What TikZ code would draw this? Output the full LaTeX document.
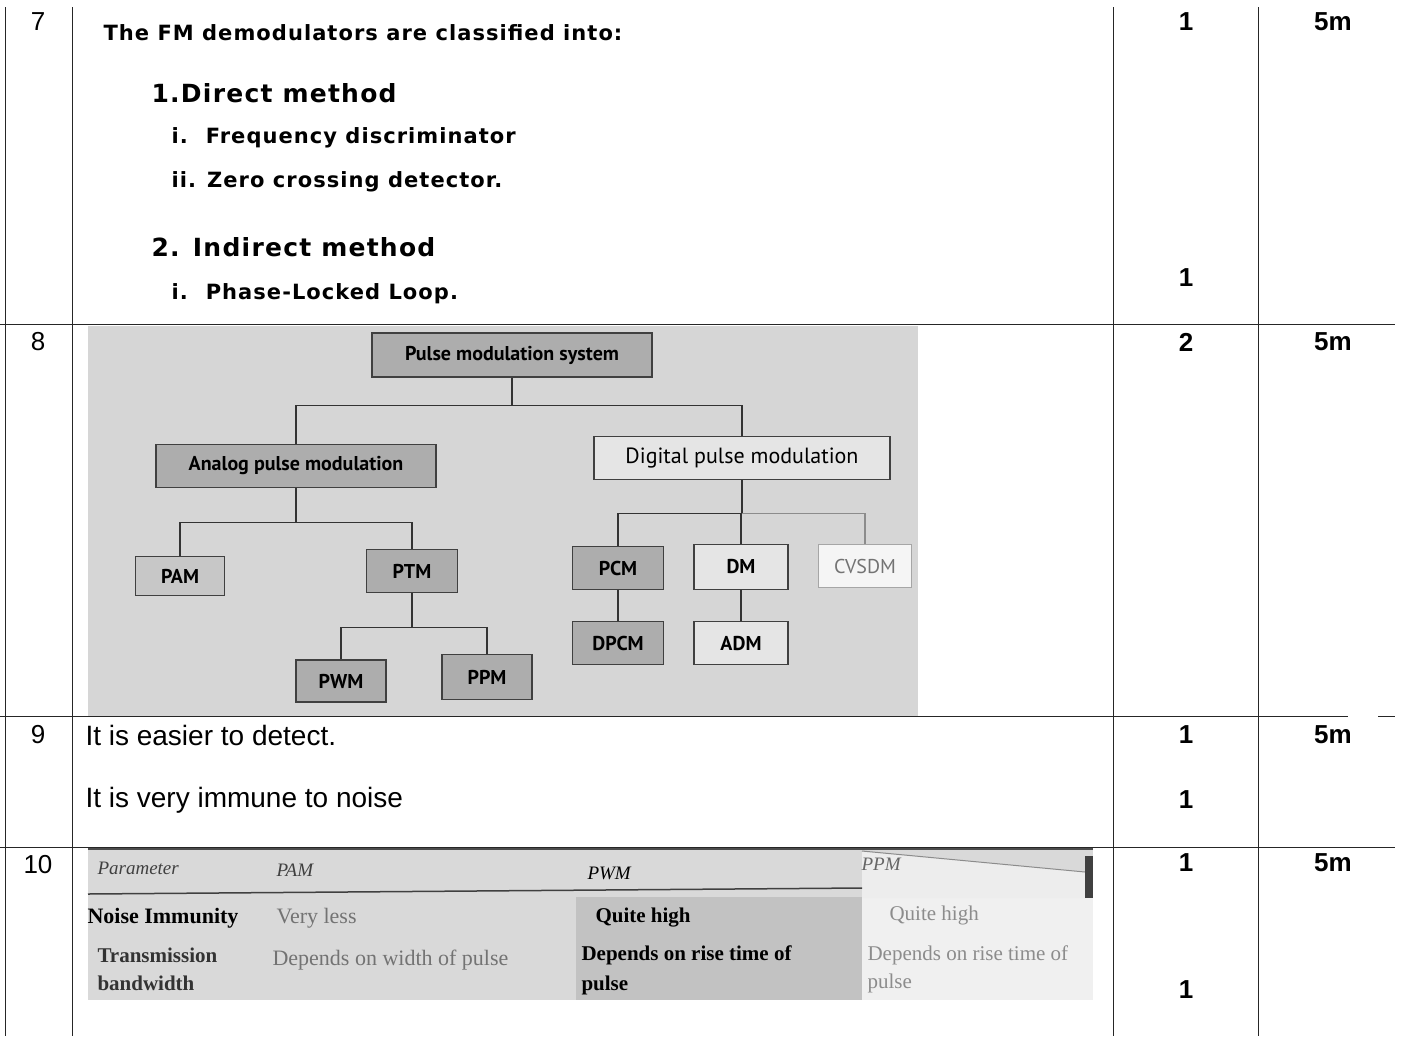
\documentclass[tikz,border=0pt]{standalone}
\usepackage{fontspec}
\setmainfont{Liberation Sans}
\newfontfamily\roundfont[LetterSpace=5]{DejaVu Sans}
\newfontfamily\chartfont{PT Sans}
\newfontfamily\scanserif{Liberation Serif}
\definecolor{scanbg}{gray}{0.84}
\definecolor{boxdark}{gray}{0.68}
\definecolor{boxlight}{gray}{0.90}
\begin{document}
\begin{tikzpicture}[x=1pt, y=-1pt,
    grid/.style={line width=1pt, black!85},
    numtxt/.style={font=\fontsize{26}{30}\selectfont},
    marktxt/.style={font=\bfseries\fontsize{26}{30}\selectfont},
    headtxt/.style={anchor=west, font=\roundfont\bfseries\fontsize{21}{25}\selectfont},
    methtxt/.style={anchor=west, font=\roundfont\bfseries\fontsize{25}{30}\selectfont},
    box/.style={draw=black!75, line width=1.2pt, inner sep=0pt,
      font=\chartfont\bfseries\fontsize{20}{24}\selectfont},
    darkbox/.style={box, fill=boxdark},
    lightbox/.style={box, fill=boxlight},
    link/.style={draw=black!80, line width=1.2pt},
    answer/.style={anchor=west, font=\fontsize{28}{32}\selectfont},
    scantxt/.style={anchor=west, font=\scanserif\fontsize{22}{26}\selectfont},
  ]
  \useasboundingbox (0,0) rectangle (1404,1036);

  % table rules
  \draw[grid] (5,7) -- (5,1036);
  \draw[grid] (72,7) -- (72,1036);
  \draw[grid] (1113,7) -- (1113,1036);
  \draw[grid] (1258,7) -- (1258,1036);
  \draw[grid] (0,324) -- (1395,324);
  \draw[grid] (0,716) -- (1348,716);
  \draw[grid] (1378,716) -- (1395,716);
  \draw[grid] (0,847) -- (1395,847);

  % question numbers
  \node[numtxt] (q7) at (38,22) {7};
  \node[numtxt] (q8) at (38,342) {8};
  \node[numtxt] (q9) at (38,735) {9};
  \node[numtxt] (q10) at (38,865) {10};

  % marks
  \node[marktxt] (m7a) at (1186,22) {1};
  \node[marktxt] (t7) at (1333,22) {5m};
  \node[marktxt] (m7b) at (1186,278) {1};
  \node[marktxt] (m8) at (1186,342) {2};
  \node[marktxt] (t8) at (1333,342) {5m};
  \node[marktxt] (m9a) at (1186,735) {1};
  \node[marktxt] (t9) at (1333,735) {5m};
  \node[marktxt] (m9b) at (1186,800) {1};
  \node[marktxt] (m10a) at (1186,863) {1};
  \node[marktxt] (t10) at (1333,863) {5m};
  \node[marktxt] (m10b) at (1186,990) {1};

  % Q7: FM demodulators
  \node[headtxt] (intro) at (100,33) {The FM demodulators are classified into:};
  \node[methtxt] (direct) at (148,93) {1.Direct method};
  \node[headtxt] (freq) at (168,138) {i.\hspace{18pt}Frequency discriminator};
  \node[headtxt] (zero) at (168,182) {ii. Zero crossing detector.};
  \node[methtxt] (indirect) at (148,247) {2. Indirect method};
  \node[headtxt] (pll) at (168,294) {i.\hspace{18pt}Phase-Locked Loop.};

  % Q8: pulse modulation tree
  \fill[scanbg] (88,326) rectangle (918,716);
  \node[darkbox, minimum width=280, minimum height=44] (pms) at (512,355) {Pulse modulation system};
  \node[darkbox, minimum width=280, minimum height=43] (apm) at (296,466) {Analog pulse modulation};
  \node[lightbox, minimum width=296, minimum height=43, font=\chartfont\fontsize{22}{24}\selectfont] (dpm) at (742,458) {Digital pulse modulation};
  \node[box, fill=black!22, minimum width=89, minimum height=39] (pam) at (180,576) {PAM};
  \node[darkbox, minimum width=91, minimum height=43] (ptm) at (412,571) {PTM};
  \node[darkbox, minimum width=90, minimum height=42] (pwm) at (341,681) {PWM};
  \node[darkbox, minimum width=90, minimum height=45] (ppm) at (487,677) {PPM};
  \node[darkbox, minimum width=91, minimum height=43] (pcm) at (618,568) {PCM};
  \node[lightbox, minimum width=94, minimum height=45] (dm) at (741,567) {DM};
  \node[box, draw=black!35, fill=black!4, text=black!55, minimum width=93, minimum height=43,
    font=\chartfont\fontsize{20}{24}\selectfont] (cvsdm) at (865,566) {CVSDM};
  \node[darkbox, minimum width=91, minimum height=43] (dpcm) at (618,643) {DPCM};
  \node[lightbox, minimum width=94, minimum height=43] (adm) at (741,643) {ADM};

  \draw[link] (pms.south) -- ++(0,28) coordinate (jtop) -| (apm.north);
  \draw[link] (jtop) -| (dpm.north);
  \draw[link] (apm.south) -- ++(0,34) coordinate (jana) -| (pam.north);
  \draw[link] (jana) -| (ptm.north);
  \draw[link] (ptm.south) -- ++(0,34) coordinate (jtime) -| (pwm.north);
  \draw[link] (jtime) -| (ppm.north);
  \draw[link] (dpm.south) -- ++(0,33) coordinate (jdig) -| (pcm.north);
  \draw[link] (jdig) -| (dm.north);
  \draw[link, black!45] (jdig) -| (cvsdm.north);
  \draw[link] (pcm) -- (dpcm);
  \draw[link] (dm) -- (adm);

  % Q9
  \node[answer] (easy) at (82,735) {It is easier to detect.};
  \node[answer] (immune) at (82,800) {It is very immune to noise};

  % Q10: comparison table (scanned)
  \fill[black!15] (88,849) rectangle (1093,1000);
  \fill[black!24] (576,897) rectangle (862,1000);
  \fill[black!6] (862,897) rectangle (1093,1000);
  \fill[black!7] (862,851) -- (1085,872) -- (1085,898) -- (862,898) -- cycle;
  \draw[black!70, line width=1.5pt] (88,849) -- (1093,849);
  \draw[black!75, line width=1.5pt] (88,894) -- (862,888);
  \draw[black!45, line width=1pt] (862,851) -- (1085,872);
  \fill[black!75] (1085,856) rectangle (1093,898);

  \node[scantxt, font=\scanserif\itshape\fontsize{19}{22}\selectfont, text=black!75] (hpar) at (94,868) {Parameter};
  \node[scantxt, font=\scanserif\itshape\fontsize{19}{22}\selectfont, text=black!75] (hpam) at (273,870) {PAM};
  \node[scantxt, font=\scanserif\itshape\fontsize{19}{22}\selectfont] (hpwm) at (584,873) {PWM};
  \node[scantxt, font=\scanserif\itshape\fontsize{19}{22}\selectfont, text=black!60] (hppm) at (858,864) {PPM};

  \node[scantxt, font=\scanserif\bfseries\fontsize{22}{26}\selectfont] (noise) at (84,918) {Noise Immunity};
  \node[scantxt, text=black!55] (nspam) at (273,918) {Very less};
  \node[scantxt, font=\scanserif\bfseries\fontsize{21}{25}\selectfont] (nspwm) at (592,918) {Quite high};
  \node[scantxt, font=\scanserif\fontsize{21}{25}\selectfont, text=black!45] (nsppm) at (886,915) {Quite high};

  \node[scantxt, font=\scanserif\bfseries\fontsize{21}{24}\selectfont, text=black!80] (bw1) at (94,955) {Transmission};
  \node[scantxt, font=\scanserif\bfseries\fontsize{21}{24}\selectfont, text=black!80] (bw2) at (94,983) {bandwidth};
  \node[scantxt, text=black!55] (bwpam) at (269,960) {Depends on width of pulse};
  \node[scantxt, font=\scanserif\bfseries\fontsize{21}{25}\selectfont] (bwpwm) at (578,955) {Depends on rise time of};
  \node[scantxt, font=\scanserif\bfseries\fontsize{21}{25}\selectfont] (bwpwm2) at (578,985) {pulse};
  \node[scantxt, font=\scanserif\fontsize{21}{25}\selectfont, text=black!45] (bwppm) at (864,955) {Depends on rise time of};
  \node[scantxt, font=\scanserif\fontsize{21}{25}\selectfont, text=black!45] (bwppm2) at (864,983) {pulse};
\end{tikzpicture}
\end{document}
